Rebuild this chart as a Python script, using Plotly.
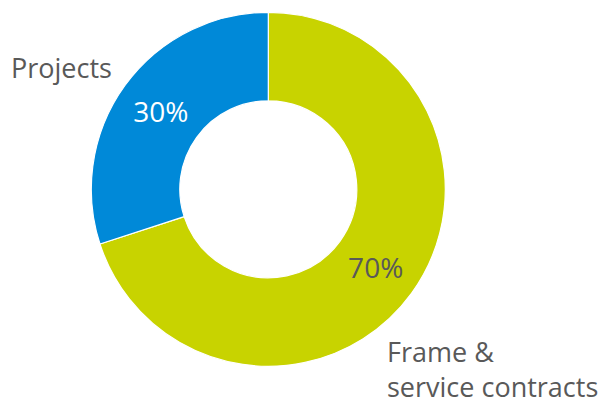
import plotly.graph_objects as go

labels = ["Frame &<br>service contracts", "Projects"]
values = [70, 30]
colors = ["#C8D300", "#0089D8"]
text_colors = ["#595959", "#FFFFFF"]

OFF = 8  # page body margin offset
W, H = 608 - OFF, 403 - OFF
cx, cy, R = 268.3 - OFF, 189.3 - OFF, 177.0

fig = go.Figure(go.Pie(
    labels=labels,
    values=values,
    sort=False,
    direction="clockwise",
    rotation=0,
    hole=0.5,
    marker=dict(colors=colors, line=dict(color="#FFFFFF", width=1.2)),
    textinfo="percent",
    texttemplate="%{percent:.0%}",
    textposition="inside",
    insidetextorientation="horizontal",
    textfont=dict(family="Open Sans", size=28, color=text_colors),
    showlegend=False,
    hoverinfo="label+percent",
    domain=dict(x=[(cx - R) / W, (cx + R) / W],
                y=[(H - cy - R) / H, (H - cy + R) / H]),
))

fig.add_annotation(text=labels[1], x=(9 - OFF) / W, y=(H - (67 - OFF)) / H,
                   xref="paper", yref="paper",
                   xanchor="left", yanchor="middle", showarrow=False, align="left",
                   font=dict(family="Open Sans", size=27, color="#595959"))
fig.add_annotation(text=labels[0], x=(385 - OFF) / W, y=(H - (369 - OFF)) / H,
                   xref="paper", yref="paper",
                   xanchor="left", yanchor="middle", showarrow=False, align="left",
                   font=dict(family="Open Sans", size=27, color="#595959"))

fig.update_layout(width=W, height=H, margin=dict(l=0, r=0, t=0, b=0),
                  paper_bgcolor="#FFFFFF", plot_bgcolor="#FFFFFF")
fig.write_html("out.html")
